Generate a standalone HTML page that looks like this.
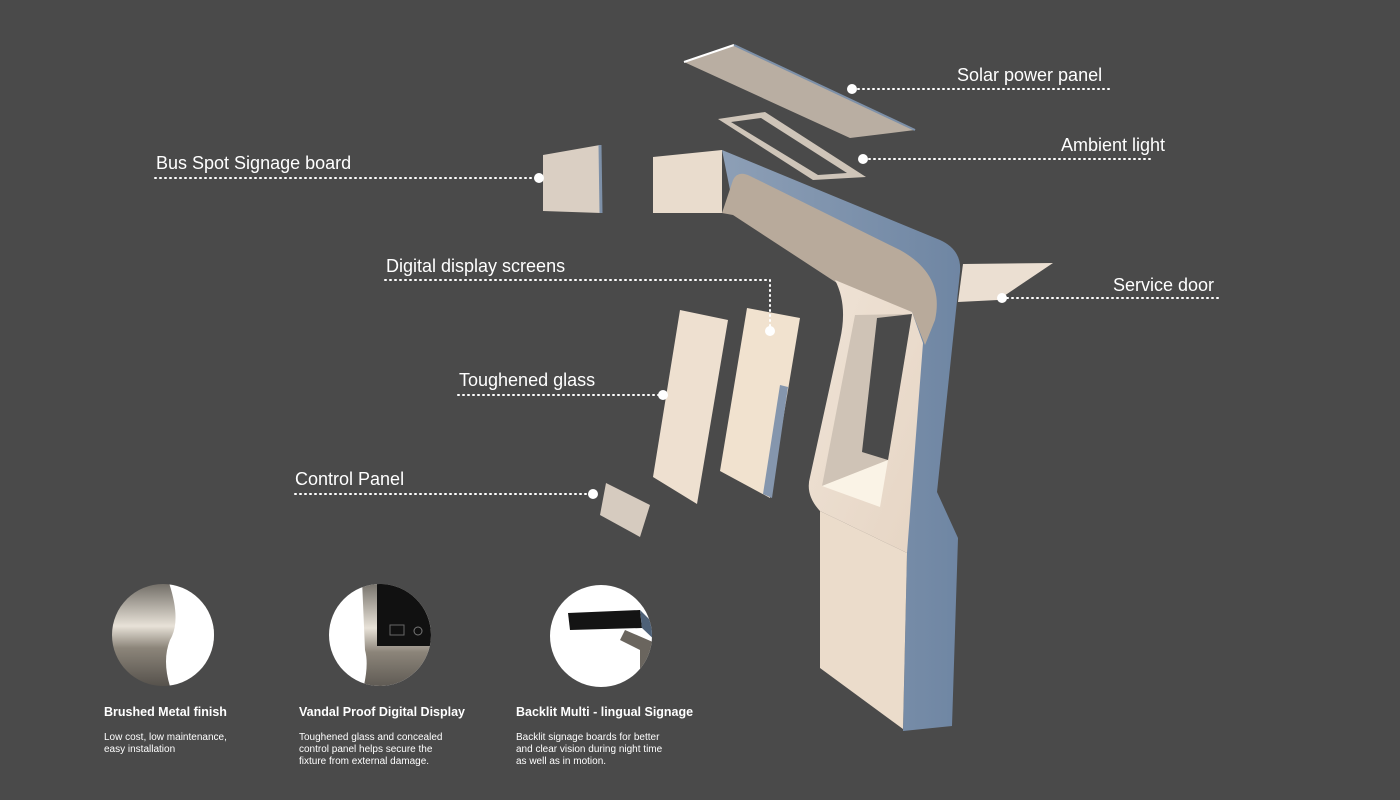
<!DOCTYPE html>
<html><head><meta charset="utf-8"><style>
html,body{margin:0;padding:0;background:#4a4a4a;}
svg{display:block}
text{font-family:"Liberation Sans","DejaVu Sans",sans-serif;fill:#fff}
</style></head><body>
<svg width="1400" height="800" viewBox="0 0 1400 800" xmlns="http://www.w3.org/2000/svg">
<defs>
<linearGradient id="cream" x1="0" y1="0" x2="1" y2="1"><stop offset="0" stop-color="#efe3d6"/><stop offset="1" stop-color="#e6d5c4"/></linearGradient>
<linearGradient id="blue" x1="0" y1="0" x2="1" y2="0"><stop offset="0" stop-color="#8d9fb6"/><stop offset="1" stop-color="#6f86a3"/></linearGradient>
<linearGradient id="metal" x1="0" y1="0" x2="0" y2="1"><stop offset="0" stop-color="#6e6a63"/><stop offset=".4" stop-color="#e8e2d8"/><stop offset=".6" stop-color="#8c857a"/><stop offset="1" stop-color="#4e4a45"/></linearGradient>
<clipPath id="c1"><circle cx="163" cy="635" r="51"/></clipPath>
<clipPath id="c2"><circle cx="380" cy="635" r="51"/></clipPath>
<clipPath id="c3"><circle cx="601" cy="636" r="51"/></clipPath>
</defs>
<rect width="1400" height="800" fill="#4a4a4a"/>

<!-- solar panel -->
<polygon points="684,62 734,45 915,130 850,138" fill="#b9aea2"/>
<polyline points="684,62 734,45" stroke="#fff" stroke-width="2" fill="none"/>
<polyline points="734,45 915,130" stroke="#7d90a8" stroke-width="2" fill="none"/>
<!-- ambient ring -->
<polygon points="718,119 765,112 866,177 813,180" fill="#cfc5b9"/>
<polygon points="731,122 761,118 847,173 818,175" fill="#4a4a4a"/>
<!-- bus sign -->
<polygon points="543,155 600,145 601,213 543,211" fill="#dacfc3"/>
<line x1="600" y1="145" x2="601" y2="213" stroke="#7d90a8" stroke-width="3"/>
<!-- main body blue -->
<path d="M722,150 L940,240 Q962,250 960,272 L955,320 L937,492 L958,538 L952,726 L903,731 L907,553 L880,530 L840,285 L735,215 Z" fill="url(#blue)"/>
<!-- arm underside -->
<path d="M722,213 L733,180 Q738,170 750,176 L900,250 Q945,275 935,320 L925,345 L912,312 L840,285 L733,215 Z" fill="#b8aa9b"/>
<!-- frame -->
<path d="M835,280 L912,312 L923,343 L907,553 L820,511 Q805,495 810,477 L840,340 Q848,305 835,280 Z" fill="url(#cream)"/>
<polygon points="855,315 912,314 888,460 822,486" fill="#cfc3b6"/>
<polygon points="877,318 912,314 888,460 862,452" fill="#4a4a4a"/>
<polygon points="822,486 888,460 880,507" fill="#faf3e6"/>
<!-- pillar front -->
<polygon points="820,511 907,553 903,729 820,668" fill="#ebdccb"/>
<!-- signage box -->
<polygon points="653,157 722,150 722,213 653,213" fill="#e9dccd"/>
<!-- service door -->
<polygon points="963,264 1053,263 998,300 958,302" fill="#ebdfd2"/>
<!-- glass panels -->
<polygon points="680,310 728,320 697,504 653,477" fill="#eee0d0"/>
<polygon points="747,308 800,318 770,498 720,471" fill="#f1e2cf"/>
<polygon points="780,385 788,387 772,498 763,494" fill="#8596ad"/>
<!-- control panel -->
<polygon points="606,483 650,505 640,537 600,515" fill="#d6cbbf"/>

<!-- connectors -->
<g stroke="#fff" stroke-width="2" stroke-dasharray="1,4" fill="none" stroke-linecap="round">
<line x1="853" y1="89" x2="1113" y2="89"/>
<line x1="864" y1="159" x2="1150" y2="159"/>
<line x1="155" y1="178" x2="538" y2="178"/>
<polyline points="385,280 770,280 770,330"/>
<line x1="1002" y1="298" x2="1220" y2="298"/>
<line x1="458" y1="395" x2="662" y2="395"/>
<line x1="295" y1="494" x2="592" y2="494"/>
</g>
<g fill="#fff">
<circle cx="852" cy="89" r="5"/><circle cx="863" cy="159" r="5"/><circle cx="539" cy="178" r="5"/>
<circle cx="770" cy="331" r="5"/><circle cx="1002" cy="298" r="5"/><circle cx="663" cy="395" r="5"/><circle cx="593" cy="494" r="5"/>
</g>
<g font-size="18">
<text x="957" y="81">Solar power panel</text>
<text x="1061" y="151">Ambient light</text>
<text x="156" y="169">Bus Spot Signage board</text>
<text x="386" y="272">Digital display screens</text>
<text x="1113" y="291">Service door</text>
<text x="459" y="386">Toughened glass</text>
<text x="295" y="485">Control Panel</text>
</g>

<!-- circles -->
<g clip-path="url(#c1)"><rect x="110" y="582" width="110" height="110" fill="url(#metal)"/>
<path d="M168,580 Q182,620 170,640 Q160,665 175,700 L220,700 L220,580 Z" fill="#fff"/></g>
<g clip-path="url(#c2)"><rect x="325" y="582" width="110" height="110" fill="#fff"/>
<path d="M352,580 L362,580 L365,650 Q370,668 360,700 L440,700 L440,580 Z" fill="url(#metal)"/>
<rect x="377" y="582" width="60" height="64" fill="#111"/>
<rect x="390" y="625" width="14" height="10" fill="none" stroke="#666"/><circle cx="418" cy="631" r="4" fill="none" stroke="#777"/></g>
<g clip-path="url(#c3)"><rect x="548" y="582" width="110" height="110" fill="#fff"/>
<polygon points="568,613 640,610 642,628 570,630" fill="#141414"/>
<polygon points="640,610 660,630 660,645 642,628" fill="#4e6178"/>
<polygon points="625,630 660,645 655,700 640,700 640,650 620,640" fill="#6a655e"/></g>

<g font-size="12.5" font-weight="bold"><text x="104" y="716">Brushed Metal finish</text><text x="299" y="716">Vandal Proof Digital Display</text><text x="516" y="716">Backlit Multi - lingual Signage</text></g>
<g font-size="10">
<text x="104" y="740">Low cost, low maintenance,</text><text x="104" y="752">easy installation</text>
<text x="299" y="740">Toughened glass and concealed</text><text x="299" y="752">control panel helps secure the</text><text x="299" y="764">fixture from external damage.</text>
<text x="516" y="740">Backlit signage boards for better</text><text x="516" y="752">and clear vision during night time</text><text x="516" y="764">as well as in motion.</text>
</g>
</svg>
</body></html>
